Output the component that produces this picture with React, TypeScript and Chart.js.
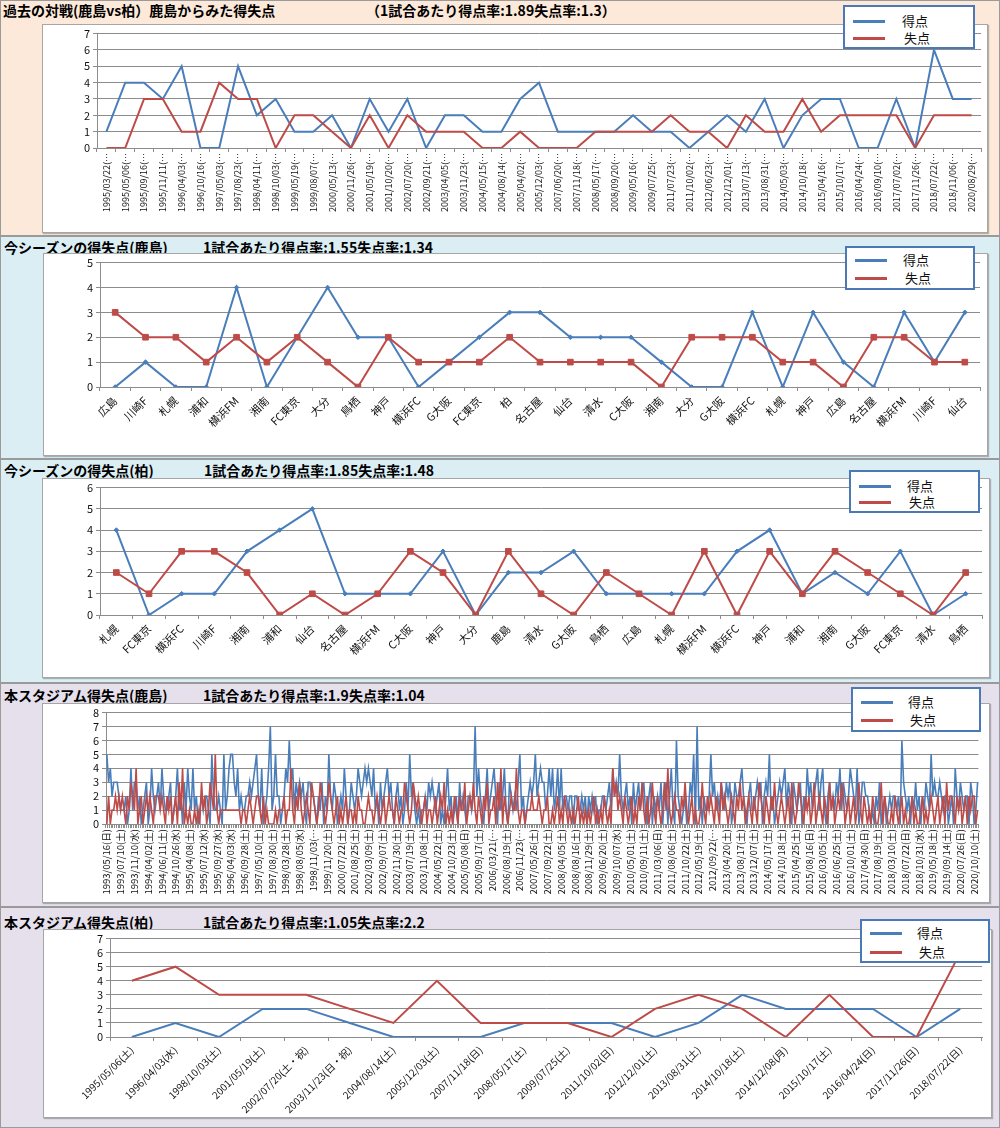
import React, { useEffect, useRef } from "react";
import { Chart, registerables } from "chart.js";
Chart.register(...registerables);

const FONT = "'Noto Sans CJK JP', 'Noto Sans', sans-serif";
const BLUE = "#4a7ebb";
const RED = "#be4b48";
const GRID = "#8c8c8c";

// ---- Chart 1: 過去の対戦(鹿島vs柏)
const h2hLabels = [
  "1995/03/22(…", "1995/05/06(…", "1995/09/16(…", "1995/11/11(…", "1996/04/03(…", "1996/10/16(…",
  "1997/05/03(…", "1997/08/23(…", "1998/04/11(…", "1998/10/03(…", "1999/05/19(…", "1999/08/07(…",
  "2000/05/13(…", "2000/11/26(…", "2001/05/19(…", "2001/10/20(…", "2002/07/20(…", "2002/09/21(…",
  "2003/04/05(…", "2003/11/23(…", "2004/05/15(…", "2004/08/14(…", "2005/04/02(…", "2005/12/03(…",
  "2007/06/20(…", "2007/11/18(…", "2008/05/17(…", "2008/09/20(…", "2009/05/16(…", "2009/07/25(…",
  "2011/07/23(…", "2011/10/02(…", "2012/06/23(…", "2012/12/01(…", "2013/07/13(…", "2013/08/31(…",
  "2014/05/03(…", "2014/10/18(…", "2015/04/16(…", "2015/10/17(…", "2016/04/24(…", "2016/09/10(…",
  "2017/07/02(…", "2017/11/26(…", "2018/07/22(…", "2018/11/06(…", "2020/08/29(…",
];
const h2hScored = [1, 4, 4, 3, 5, 0, 0, 5, 2, 3, 1, 1, 2, 0, 3, 1, 3, 0, 2, 2, 1, 1, 3, 4, 1, 1, 1, 1, 2, 1, 1, 0, 1, 2, 1, 3, 0, 2, 3, 3, 0, 0, 3, 0, 6, 3, 3];
const h2hConceded = [0, 0, 3, 3, 1, 1, 4, 3, 3, 0, 2, 2, 1, 0, 2, 0, 2, 1, 1, 1, 0, 0, 1, 0, 0, 0, 1, 1, 1, 1, 2, 1, 1, 0, 2, 1, 1, 3, 1, 2, 2, 2, 2, 0, 2, 2, 2];

// ---- Chart 2: 今シーズンの得失点(鹿島)
const kashimaSeasonLabels = ["広島", "川崎F", "札幌", "浦和", "横浜FM", "湘南", "FC東京", "大分", "鳥栖", "神戸", "横浜FC", "G大阪", "FC東京", "柏", "名古屋", "仙台", "清水", "C大阪", "湘南", "大分", "G大阪", "横浜FC", "札幌", "神戸", "広島", "名古屋", "横浜FM", "川崎F", "仙台"];
const kashimaSeasonScored = [0, 1, 0, 0, 4, 0, 2, 4, 2, 2, 0, 1, 2, 3, 3, 2, 2, 2, 1, 0, 0, 3, 0, 3, 1, 0, 3, 1, 3];
const kashimaSeasonConceded = [3, 2, 2, 1, 2, 1, 2, 1, 0, 2, 1, 1, 1, 2, 1, 1, 1, 1, 0, 2, 2, 2, 1, 1, 0, 2, 2, 1, 1];

// ---- Chart 3: 今シーズンの得失点(柏)
const kashiwaSeasonLabels = ["札幌", "FC東京", "横浜FC", "川崎F", "湘南", "浦和", "仙台", "名古屋", "横浜FM", "C大阪", "神戸", "大分", "鹿島", "清水", "G大阪", "鳥栖", "広島", "札幌", "横浜FM", "横浜FC", "神戸", "浦和", "湘南", "G大阪", "FC東京", "清水", "鳥栖"];
const kashiwaSeasonScored = [4, 0, 1, 1, 3, 4, 5, 1, 1, 1, 3, 0, 2, 2, 3, 1, 1, 1, 1, 3, 4, 1, 2, 1, 3, 0, 1];
const kashiwaSeasonConceded = [2, 1, 3, 3, 2, 0, 1, 0, 1, 3, 2, 0, 3, 1, 0, 2, 1, 0, 3, 0, 3, 1, 3, 2, 1, 0, 2];

// ---- Chart 4: 本スタジアム得失点(鹿島)
const stadiumKashimaTickLabels = [
  "1993/05/16(日)", "1993/07/10(土)", "1993/11/10(水)", "1994/04/02(土)", "1994/06/11(土)", "1994/10/26(水)",
  "1995/04/08(土)", "1995/07/12(水)", "1995/09/27(水)", "1996/04/03(水)", "1996/09/28(土)", "1997/05/10(土)",
  "1997/08/30(土)", "1998/03/28(土)", "1998/08/05(水)", "1998/11/03(…", "1999/11/20(土)", "2000/07/22(土)",
  "2001/08/25(土)", "2002/03/09(土)", "2002/09/07(土)", "2002/11/30(土)", "2003/07/19(土)", "2003/11/08(土)",
  "2004/05/22(土)", "2004/10/23(土)", "2005/05/08(日)", "2005/09/17(土)", "2006/03/21(…", "2006/08/19(土)",
  "2006/11/23(…", "2007/05/26(土)", "2007/09/22(土)", "2008/04/05(土)", "2008/08/16(土)", "2008/11/29(土)",
  "2009/06/20(土)", "2009/10/07(水)", "2010/05/01(土)", "2010/09/11(土)", "2011/03/06(日)", "2011/08/06(土)",
  "2011/10/22(土)", "2012/05/19(土)", "2012/09/22(…", "2013/04/20(土)", "2013/08/17(土)", "2013/12/07(土)",
  "2014/05/17(土)", "2014/10/18(土)", "2015/04/25(土)", "2015/08/16(日)", "2016/03/05(土)", "2016/06/25(土)",
  "2016/10/01(土)", "2017/04/30(日)", "2017/08/19(土)", "2018/03/10(土)", "2018/07/22(日)", "2018/10/31(水)",
  "2019/05/18(土)", "2019/09/14(土)", "2020/07/26(日)", "2020/10/10(土)",
];
const stadiumKashimaLabelEvery = 8;
const stadiumKashimaScored = [
  5, 3, 4, 2, 3, 3, 3, 2, 1, 1, 1, 2, 0, 1, 4, 1, 3, 3, 1, 2, 0, 1, 2, 3, 0, 1, 4, 2, 1, 2, 3, 1,
  4, 2, 1, 1, 2, 3, 0, 1, 2, 4, 1, 2, 0, 3, 1, 4, 2, 1, 4, 1, 2, 0, 1, 2, 1, 2, 2, 1, 0, 5, 2, 1,
  1, 2, 1, 0, 5, 1, 2, 4, 5, 5, 3, 2, 4, 1, 2, 1, 1, 2, 2, 3, 2, 3, 4, 5, 2, 1, 4, 0, 1, 2, 4, 7,
  1, 2, 5, 2, 2, 0, 1, 2, 4, 3, 6, 3, 4, 1, 3, 2, 3, 2, 3, 1, 0, 3, 3, 2, 2, 1, 0, 2, 1, 3, 0, 2,
  1, 5, 2, 1, 3, 2, 0, 1, 2, 1, 4, 2, 0, 1, 3, 2, 1, 2, 4, 3, 2, 3, 4, 3, 4, 3, 2, 4, 1, 2, 0, 3,
  1, 2, 3, 4, 2, 3, 1, 0, 2, 3, 1, 2, 0, 1, 3, 1, 5, 2, 3, 1, 0, 1, 0, 1, 1, 2, 1, 3, 2, 3, 2, 1,
  2, 3, 0, 1, 0, 2, 4, 1, 2, 0, 1, 2, 0, 3, 1, 2, 1, 0, 2, 2, 1, 2, 7, 2, 4, 2, 1, 0, 2, 4, 1, 2,
  3, 4, 2, 0, 3, 1, 2, 4, 1, 0, 3, 2, 1, 2, 1, 3, 5, 1, 2, 0, 1, 2, 3, 2, 3, 5, 2, 3, 4, 3, 3, 1,
  2, 4, 2, 4, 1, 2, 4, 1, 4, 1, 2, 2, 1, 2, 2, 0, 2, 2, 1, 1, 2, 1, 2, 0, 2, 1, 2, 1, 2, 0, 1, 1,
  2, 2, 1, 2, 3, 1, 4, 2, 3, 2, 5, 2, 1, 2, 3, 1, 2, 0, 3, 1, 2, 3, 1, 2, 3, 1, 0, 2, 3, 0, 2, 1,
  2, 1, 3, 0, 2, 3, 0, 2, 4, 1, 0, 6, 2, 1, 0, 1, 2, 0, 1, 3, 2, 5, 0, 7, 1, 2, 0, 2, 1, 1, 2, 5,
  2, 3, 1, 2, 1, 3, 2, 1, 3, 2, 3, 0, 1, 3, 2, 2, 3, 4, 2, 1, 0, 2, 3, 1, 1, 2, 3, 2, 3, 0, 2, 3,
  2, 5, 1, 2, 0, 1, 2, 3, 2, 3, 4, 1, 3, 2, 0, 3, 2, 1, 2, 3, 0, 2, 1, 4, 2, 3, 1, 2, 3, 4, 1, 3,
  4, 1, 0, 2, 3, 1, 2, 1, 3, 2, 4, 1, 3, 2, 1, 2, 4, 3, 2, 1, 4, 0, 1, 3, 3, 2, 2, 1, 0, 1, 0, 2,
  1, 3, 0, 1, 2, 0, 1, 2, 1, 2, 2, 1, 2, 0, 6, 3, 2, 1, 2, 0, 2, 1, 3, 1, 2, 0, 2, 1, 3, 2, 1, 5,
  2, 3, 2, 2, 3, 2, 1, 2, 2, 0, 1, 2, 0, 4, 2, 1, 3, 2, 1, 2, 2, 0, 3, 2, 0, 1, 3,
];
const stadiumKashimaConceded = [
  0, 2, 0, 1, 1, 2, 1, 2, 1, 2, 1, 0, 2, 1, 3, 2, 1, 4, 0, 1, 2, 0, 1, 2, 1, 2, 1, 0, 2, 2, 2, 1,
  2, 1, 0, 2, 1, 2, 0, 1, 2, 0, 3, 1, 4, 0, 1, 0, 1, 0, 0, 1, 0, 1, 0, 3, 1, 2, 0, 1, 3, 2, 1, 5,
  1, 0, 1, 1, 1, 1, 1, 1, 1, 1, 1, 1, 1, 1, 0, 1, 1, 0, 1, 2, 1, 0, 1, 2, 2, 1, 0, 2, 0, 1, 0, 0,
  0, 0, 1, 0, 1, 1, 1, 2, 0, 1, 1, 4, 1, 0, 2, 1, 3, 1, 0, 1, 2, 1, 0, 3, 2, 1, 0, 1, 3, 2, 1, 0,
  1, 3, 2, 1, 0, 1, 2, 0, 1, 0, 1, 2, 0, 1, 1, 0, 1, 0, 2, 1, 1, 0, 0, 1, 2, 1, 1, 0, 1, 2, 1, 0,
  1, 2, 0, 1, 2, 1, 1, 0, 2, 1, 0, 1, 1, 3, 2, 1, 0, 1, 3, 2, 1, 2, 1, 0, 1, 2, 0, 1, 1, 0, 1, 2,
  0, 1, 2, 1, 3, 0, 1, 0, 1, 0, 2, 1, 0, 2, 1, 1, 3, 0, 1, 2, 1, 3, 1, 0, 2, 1, 0, 2, 1, 3, 0, 1,
  1, 2, 0, 3, 1, 4, 0, 2, 1, 0, 1, 2, 1, 1, 4, 1, 0, 1, 1, 0, 1, 1, 1, 2, 1, 1, 1, 2, 1, 0, 1, 1,
  2, 0, 0, 1, 0, 1, 2, 0, 1, 0, 2, 1, 0, 1, 0, 1, 0, 1, 2, 0, 1, 0, 1, 0, 1, 0, 1, 2, 0, 1, 0, 1,
  0, 2, 1, 0, 1, 0, 4, 2, 3, 1, 2, 1, 0, 2, 1, 0, 1, 2, 0, 1, 0, 2, 1, 3, 1, 0, 2, 0, 1, 3, 1, 0,
  2, 1, 0, 1, 3, 1, 4, 1, 0, 1, 2, 1, 1, 0, 2, 1, 3, 1, 0, 1, 2, 0, 1, 0, 0, 1, 3, 1, 0, 2, 1, 2,
  1, 0, 2, 1, 0, 3, 1, 2, 1, 0, 1, 2, 1, 0, 2, 1, 3, 1, 2, 0, 1, 2, 1, 0, 2, 1, 0, 3, 2, 1, 0, 2,
  1, 0, 2, 1, 3, 1, 0, 1, 2, 1, 0, 1, 2, 0, 3, 1, 0, 1, 3, 2, 1, 0, 2, 1, 2, 0, 1, 3, 0, 1, 2, 1,
  0, 2, 1, 0, 3, 1, 2, 0, 1, 2, 1, 3, 2, 0, 1, 2, 0, 1, 2, 0, 1, 3, 1, 0, 2, 1, 0, 1, 0, 2, 1, 0,
  0, 1, 3, 0, 2, 1, 0, 0, 1, 0, 2, 1, 0, 1, 2, 0, 1, 0, 0, 1, 2, 0, 1, 0, 0, 1, 2, 0, 1, 0, 1, 2,
  1, 0, 1, 2, 0, 1, 2, 0, 3, 1, 2, 2, 1, 0, 2, 1, 2, 0, 1, 2, 0, 2, 1, 2, 2, 0, 1,
];

// ---- Chart 5: 本スタジアム得失点(柏)
const stadiumKashiwaLabels = ["1995/05/06(土)", "1996/04/03(水)", "1998/10/03(土)", "2001/05/19(土)", "2002/07/20(土・祝)", "2003/11/23(日・祝)", "2004/08/14(土)", "2005/12/03(土)", "2007/11/18(日)", "2008/05/17(土)", "2009/07/25(土)", "2011/10/02(日)", "2012/12/01(土)", "2013/08/31(土)", "2014/10/18(土)", "2014/12/08(月)", "2015/10/17(土)", "2016/04/24(日)", "2017/11/26(日)", "2018/07/22(日)"];
const stadiumKashiwaScored = [0, 1, 0, 2, 2, 1, 0, 0, 0, 1, 1, 1, 0, 1, 3, 2, 2, 2, 0, 2];
const stadiumKashiwaConceded = [4, 5, 3, 3, 3, 2, 1, 4, 1, 1, 1, 0, 2, 3, 2, 0, 3, 0, 0, 6];

type Box = { x: number; y: number; w: number; h: number };
type ChartProps = {
  box: Box;
  labels: string[];
  scored: number[];
  conceded: number[];
  yMax: number;
  yAxisWidth: number;
  padTop: number;
  padRight: number;
  xAxisHeight: number;
  rotation: number;
  xFontSize: number;
  yFontSize: number;
  lineWidth: number;
  markers: boolean;
  xTickPad: number;
};

function LineChart(p: ChartProps) {
  const ref = useRef<HTMLCanvasElement | null>(null);
  useEffect(() => {
    if (!ref.current) return;
    const chart = new Chart(ref.current, {
      type: "line",
      data: {
        labels: p.labels,
        datasets: [
          {
            label: "得点",
            data: p.scored,
            borderColor: BLUE,
            backgroundColor: BLUE,
            borderWidth: p.lineWidth,
            pointStyle: "rectRot",
            pointRadius: p.markers ? 2.3 : 0,
            pointBorderWidth: 1,
            tension: 0,
            order: 1,
          },
          {
            label: "失点",
            data: p.conceded,
            borderColor: RED,
            backgroundColor: RED,
            borderWidth: p.lineWidth,
            pointStyle: "rect",
            pointRadius: p.markers ? 4 : 0,
            pointBorderWidth: 1,
            tension: 0,
            order: 0,
          },
        ],
      },
      options: {
        responsive: false,
        animation: false,
        events: [],
        layout: { padding: { left: 0, top: p.padTop, right: p.padRight, bottom: 0 } },
        plugins: { legend: { display: false }, tooltip: { enabled: false }, title: { display: false } },
        scales: {
          x: {
            offset: true,
            grid: { offset: true, drawOnChartArea: false, tickLength: 4, color: GRID },
            border: { color: GRID },
            ticks: {
              autoSkip: false,
              maxRotation: p.rotation,
              minRotation: p.rotation,
              padding: p.xTickPad,
              color: "#111",
              font: { family: FONT, size: p.xFontSize },
            },
            afterFit: (s: any) => {
              s.height = p.xAxisHeight;
            },
          },
          y: {
            min: 0,
            max: p.yMax,
            ticks: {
              stepSize: 1,
              autoSkip: false,
              padding: 3,
              color: "#111",
              font: { family: FONT, size: p.yFontSize },
            },
            grid: { color: GRID, tickLength: 4 },
            border: { color: GRID },
            afterFit: (s: any) => {
              s.width = p.yAxisWidth;
            },
          },
        },
      },
    });
    return () => chart.destroy();
  }, []);
  return (
    <canvas
      ref={ref}
      width={p.box.w}
      height={p.box.h}
      style={{ position: "absolute", left: p.box.x, top: p.box.y, width: p.box.w, height: p.box.h }}
    />
  );
}

function PlotBox({ box }: { box: Box }) {
  return (
    <div
      style={{
        position: "absolute",
        left: box.x,
        top: box.y,
        width: box.w,
        height: box.h,
        boxSizing: "border-box",
        background: "#fff",
        border: "1px solid #a6a6a6",
        boxShadow: "1px 1px 1px rgba(0,0,0,0.25)",
      }}
    />
  );
}

function Legend({ box, rows, textX }: { box: Box; rows: number[]; textX: number }) {
  const items = [
    { text: "得点", color: BLUE },
    { text: "失点", color: RED },
  ];
  return (
    <div
      style={{
        position: "absolute",
        left: box.x,
        top: box.y,
        width: box.w,
        height: box.h,
        boxSizing: "border-box",
        background: "#fff",
        border: "2px solid #4a79b5",
      }}
    >
      {items.map((it, i) => (
        <React.Fragment key={it.text}>
          <div
            style={{
              position: "absolute",
              left: 8,
              top: rows[i] - 2 - 1.5,
              width: 32,
              height: 3,
              background: it.color,
            }}
          />
          <div
            style={{
              position: "absolute",
              left: textX - 2 + (i === 1 ? 2 : 0),
              top: rows[i] - 2 - 8,
              fontFamily: FONT,
              fontSize: 13,
              lineHeight: "16px",
              color: "#111",
              whiteSpace: "nowrap",
            }}
          >
            {it.text}
          </div>
        </React.Fragment>
      ))}
    </div>
  );
}

function Title({ x, yc, text }: { x: number; yc: number; text: string }) {
  return (
    <div
      style={{
        position: "absolute",
        left: x,
        top: yc - 9,
        fontFamily: FONT,
        fontWeight: 700,
        fontSize: 14,
        lineHeight: "18px",
        color: "#000",
        whiteSpace: "nowrap",
      }}
    >
      {text}
    </div>
  );
}

const sections = [
  { top: 0, h: 236, bg: "#fde9d9" },
  { top: 236, h: 223, bg: "#dbeef4" },
  { top: 459, h: 224, bg: "#dbeef4" },
  { top: 683, h: 224, bg: "#e5e0ec" },
  { top: 907, h: 221, bg: "#e5e0ec" },
];

export default function App() {
  useEffect(() => {
    document.body.style.margin = "0";
  }, []);

  const kashimaStadiumLabels = stadiumKashimaScored.map((_, i) =>
    i % stadiumKashimaLabelEvery === 0 ? stadiumKashimaTickLabels[i / stadiumKashimaLabelEvery] ?? "" : ""
  );

  const box1 = { x: 42, y: 24, w: 946, h: 209 };
  const box2 = { x: 43, y: 253, w: 945, h: 203 };
  const box3 = { x: 42, y: 478, w: 948, h: 200 };
  const box4 = { x: 42, y: 703, w: 948, h: 200 };
  const box5 = { x: 43, y: 929, w: 949, h: 189 };

  return (
    <div style={{ position: "absolute", left: 0, top: 0, width: 1000, height: 1128, overflow: "hidden", background: "#fff" }}>
      {sections.map((s, i) => (
        <div
          key={i}
          style={{
            position: "absolute",
            left: 0,
            top: s.top,
            width: 1000,
            height: s.h,
            boxSizing: "border-box",
            background: s.bg,
            border: "1px solid #9a9a9a",
          }}
        />
      ))}

      <Title x={3} yc={10} text="過去の対戦(鹿島vs柏）鹿島からみた得失点" />
      <Title x={366} yc={10} text="（1試合あたり得点率:1.89失点率:1.3）" />
      <Title x={4} yc={247} text="今シーズンの得失点(鹿島)" />
      <Title x={203} yc={247} text="1試合あたり得点率:1.55失点率:1.34" />
      <Title x={4} yc={470} text="今シーズンの得失点(柏)" />
      <Title x={204} yc={470} text="1試合あたり得点率:1.85失点率:1.48" />
      <Title x={4} yc={695} text="本スタジアム得失点(鹿島)" />
      <Title x={203} yc={695} text="1試合あたり得点率:1.9失点率:1.04" />
      <Title x={4} yc={922} text="本スタジアム得失点(柏)" />
      <Title x={203} yc={922} text="1試合あたり得点率:1.05失点率:2.2" />

      <PlotBox box={box1} />
      <PlotBox box={box2} />
      <PlotBox box={box3} />
      <PlotBox box={box4} />
      <PlotBox box={box5} />

      <LineChart
        box={box1}
        labels={h2hLabels}
        scored={h2hScored}
        conceded={h2hConceded}
        yMax={7}
        yAxisWidth={55}
        padTop={8}
        padRight={7}
        xAxisHeight={85}
        rotation={90}
        xFontSize={9}
        yFontSize={11}
        lineWidth={2}
        markers={false}
        xTickPad={1}
      />
      <LineChart
        box={box2}
        labels={kashimaSeasonLabels}
        scored={kashimaSeasonScored}
        conceded={kashimaSeasonConceded}
        yMax={5}
        yAxisWidth={57}
        padTop={7}
        padRight={8}
        xAxisHeight={69}
        rotation={45}
        xFontSize={11}
        yFontSize={11}
        lineWidth={2}
        markers={true}
        xTickPad={3}
      />
      <LineChart
        box={box3}
        labels={kashiwaSeasonLabels}
        scored={kashiwaSeasonScored}
        conceded={kashiwaSeasonConceded}
        yMax={6}
        yAxisWidth={58}
        padTop={7}
        padRight={8}
        xAxisHeight={63}
        rotation={45}
        xFontSize={11}
        yFontSize={11}
        lineWidth={2}
        markers={true}
        xTickPad={3}
      />
      <LineChart
        box={box4}
        labels={kashimaStadiumLabels}
        scored={stadiumKashimaScored}
        conceded={stadiumKashimaConceded}
        yMax={8}
        yAxisWidth={64}
        padTop={6}
        padRight={7}
        xAxisHeight={79}
        rotation={90}
        xFontSize={9.5}
        yFontSize={11}
        lineWidth={1.6}
        markers={false}
        xTickPad={1}
      />
      <LineChart
        box={box5}
        labels={stadiumKashiwaLabels}
        scored={stadiumKashiwaScored}
        conceded={stadiumKashiwaConceded}
        yMax={7}
        yAxisWidth={67}
        padTop={9}
        padRight={10}
        xAxisHeight={81}
        rotation={45}
        xFontSize={10}
        yFontSize={11}
        lineWidth={2}
        markers={false}
        xTickPad={3}
      />

      <Legend box={{ x: 843, y: 5, w: 132, h: 44 }} rows={[16, 33]} textX={59} />
      <Legend box={{ x: 845, y: 246, w: 130, h: 44 }} rows={[14, 32]} textX={58} />
      <Legend box={{ x: 849, y: 470, w: 131, h: 43 }} rows={[16, 32]} textX={58} />
      <Legend box={{ x: 851, y: 687, w: 130, h: 45 }} rows={[15, 33]} textX={57} />
      <Legend box={{ x: 860, y: 919, w: 130, h: 44 }} rows={[14, 33]} textX={57} />
    </div>
  );
}
